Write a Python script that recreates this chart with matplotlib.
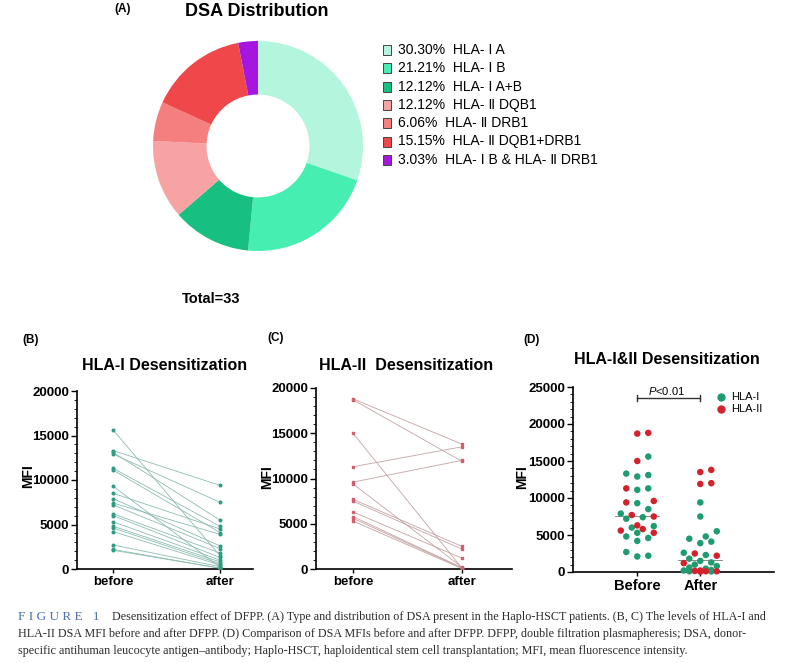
import numpy as np
import matplotlib
matplotlib.use("Agg")
import matplotlib.pyplot as plt
from matplotlib.patches import Rectangle
from matplotlib.lines import Line2D

plt.rcParams["font.family"] = ["Liberation Sans", "DejaVu Sans", "Noto Sans CJK SC"]
plt.rcParams["mathtext.fontset"] = "custom"
plt.rcParams["mathtext.it"] = "Liberation Sans:italic"
plt.rcParams["mathtext.rm"] = "Liberation Sans"

# =========================
# data
# =========================
# (A) DSA types, counts out of 33 patients
dsa_types = ["HLA- Ⅰ A", "HLA- Ⅰ B", "HLA- Ⅰ A+B", "HLA- Ⅱ DQB1",
             "HLA- Ⅱ DRB1", "HLA- Ⅱ DQB1+DRB1", "HLA- Ⅰ B & HLA- Ⅱ DRB1"]
dsa_counts = [10, 7, 4, 4, 2, 5, 1]
dsa_colors = ["#b3f5dd", "#46eeb1", "#17bf80", "#f8a3a3",
              "#f57e7e", "#f0474a", "#a716df"]

# (B) HLA-I MFI before / after DFPP (paired)
hla1_before = [15600, 13300, 13100, 12900, 11300, 11100, 9300, 8500, 7900, 7400,
               7200, 6200, 6000, 5300, 4800, 4600, 4200, 2700, 2200, 2100]
hla1_after = [1500, 9400, 5500, 7500, 4800, 4100, 200, 4500, 2600, 3900,
              2300, 1800, 1300, 1000, 800, 600, 450, 260, 80, 100]

# (C) HLA-II MFI before / after DFPP (paired)
hla2_before = [18800, 18700, 15000, 11300, 9600, 9400, 7700, 7500, 6300, 5800, 5600, 5300]
hla2_after = [13800, 11900, 100, 13500, 12000, 200, 2500, 2200, 1200, 150, 100, 50]

groups = ["before", "after"]
groups_d = ["Before", "After"]

caption = [
    "Desensitization effect of DFPP. (A) Type and distribution of DSA present in the Haplo-HSCT patients. (B, C) The levels of HLA-I and",
    "HLA-II DSA MFI before and after DFPP. (D) Comparison of DSA MFIs before and after DFPP. DFPP, double filtration plasmapheresis; DSA, donor-",
    "specific antihuman leucocyte antigen\u2013antibody; Haplo-HSCT, haploidentical stem cell transplantation; MFI, mean fluorescence intensity.",
]

W, H = 786, 663
fig = plt.figure(figsize=(W / 100, H / 100), dpi=100)


def fx(x):
    return x / W


def fy(y):
    return 1 - y / H


def style_axes(ax, ymax, step, labelsize=9.5):
    for s in ["top", "right"]:
        ax.spines[s].set_visible(False)
    for s in ["left", "bottom"]:
        ax.spines[s].set_linewidth(1.2)
    ax.set_ylim(0, ymax)
    ax.set_yticks(np.arange(0, ymax + 1, step))
    ax.set_yticks(np.arange(0, ymax + 1, 1000), minor=True)
    ax.tick_params(axis="y", which="major", length=4, width=1, pad=1.5, labelsize=labelsize)
    ax.tick_params(axis="y", which="minor", length=2, width=0.6)
    ax.tick_params(axis="x", length=3, width=1, pad=2)
    for t in ax.get_yticklabels():
        t.set_fontweight("bold")


# =========================
# (A) donut
# =========================
fig.text(fx(123), fy(9), "(A)", fontsize=8.5, fontweight="bold", ha="center", va="center")
fig.text(fx(257), fy(11), "DSA Distribution", fontsize=13, fontweight="bold", ha="center", va="center")

axA = fig.add_axes([fx(153), fy(251), 210 / W, 210 / H])
axA.pie(dsa_counts, colors=dsa_colors, startangle=90, counterclock=False, radius=1,
        wedgeprops=dict(width=0.51, edgecolor="none"))
axA.set_xlim(-1, 1)
axA.set_ylim(-1, 1)
axA.axis("off")

total = sum(dsa_counts)
fig.text(fx(211), fy(299), f"Total={total}", fontsize=10.5, fontweight="bold", ha="center", va="center")

for i, (name, n, col) in enumerate(zip(dsa_types, dsa_counts, dsa_colors)):
    y = 50 + i * 18.3
    fig.add_artist(Rectangle((fx(383), fy(y + 5)), 8 / W, 10 / H, transform=fig.transFigure,
                             facecolor=col, edgecolor="#444444", lw=0.7))
    fig.text(fx(398), fy(y), f"{100 * n / total:.2f}%  {name}", fontsize=10, ha="left", va="center")

# =========================
# (B) HLA-I
# =========================
fig.text(fx(31), fy(340), "(B)", fontsize=8.5, fontweight="bold", ha="center", va="center")
fig.text(fx(165), fy(365), "HLA-I Desensitization", fontsize=11.5, fontweight="bold", ha="center", va="center")
axB = fig.add_axes([fx(77), fy(569), 176 / W, 178 / H])
for b, a in zip(hla1_before, hla1_after):
    axB.plot([0, 1], [b, a], color="#8dbcb1", lw=0.6, marker="o", ms=1.9,
             mfc="#2f9c84", mec="#2f9c84", zorder=3)
axB.set_xlim(-0.34, 1.31)
style_axes(axB, 20000, 5000)
axB.set_xticks([0, 1])
axB.set_xticklabels(groups, fontsize=9.5, fontweight="bold")
fig.text(fx(28), fy(476), "MFI", fontsize=10, fontweight="bold", rotation=90, ha="center", va="center")

# =========================
# (C) HLA-II
# =========================
fig.text(fx(276), fy(338), "(C)", fontsize=8.5, fontweight="bold", ha="center", va="center")
fig.text(fx(406), fy(365), "HLA-II  Desensitization", fontsize=11.5, fontweight="bold", ha="center", va="center")
axC = fig.add_axes([fx(316), fy(569), 196 / W, 181 / H])
for b, a in zip(hla2_before, hla2_after):
    axC.plot([0, 1], [b, a], color="#c4a3a3", lw=0.6, marker="s", ms=1.9,
             mfc="#d45c6c", mec="#d45c6c", zorder=3)
axC.set_xlim(-0.34, 1.46)
style_axes(axC, 20000, 5000)
axC.set_xticks([0, 1])
axC.set_xticklabels(groups, fontsize=9.5, fontweight="bold")
fig.text(fx(267), fy(477), "MFI", fontsize=10, fontweight="bold", rotation=90, ha="center", va="center")

# =========================
# (D) combined scatter
# =========================
fig.text(fx(532), fy(340), "(D)", fontsize=8.5, fontweight="bold", ha="center", va="center")
fig.text(fx(667), fy(360), "HLA-I&II Desensitization", fontsize=11.5, fontweight="bold", ha="center", va="center")
axD = fig.add_axes([fx(573), fy(572), 201 / W, 185 / H])
axD.set_xlim(-1.02, 2.17)
style_axes(axD, 25000, 5000)
axD.set_xticks([0, 1])
axD.set_xticklabels(groups_d, fontsize=10.5, fontweight="bold")
fig.text(fx(522), fy(477), "MFI", fontsize=10, fontweight="bold", rotation=90, ha="center", va="center")

px_per_y = 185 / 25000
px_per_x = 201 / 3.19
green, red = "#1f9c6f", "#d2222b"


def swarm(vals, d=9.5, step=5.5, lim=20):
    vals = np.asarray(vals, dtype=float)
    offs = np.zeros(len(vals))
    placed = []
    cands = [0.0]
    k = 1
    while k * step <= lim:
        cands += [k * step, -k * step]
        k += 1
    for i in np.argsort(vals):
        y = vals[i] * px_per_y
        best, best_d = 0.0, -1
        for c in cands:
            md = min([np.hypot(c - p[0], y - p[1]) for p in placed], default=1e9)
            if md >= d:
                best = c
                break
            if md > best_d:
                best, best_d = c, md
        offs[i] = best
        placed.append((best, y))
    return offs / px_per_x


for xpos, v1, v2 in [(0, hla1_before, hla2_before), (1, hla1_after, hla2_after)]:
    vals = list(v1) + list(v2)
    cols = [green] * len(v1) + [red] * len(v2)
    offs = swarm(vals)
    axD.scatter(xpos + offs, vals, s=22, c=cols, edgecolors="none", zorder=3, clip_on=False)
    med = np.median(vals)
    axD.plot([xpos - 0.35, xpos + 0.35], [med, med], color="#777777", lw=0.6, zorder=2)

yb = 23500
axD.plot([0, 1], [yb, yb], color="#333333", lw=1)
axD.plot([0, 0], [yb - 450, yb + 450], color="#333333", lw=1)
axD.plot([1, 1], [yb - 450, yb + 450], color="#333333", lw=1)
fig.text(fx(667), fy(391), r"$\mathit{P}$<0.01", fontsize=8, ha="center", va="center")

for y, col, lab in [(397, green, "HLA-I"), (409, red, "HLA-II")]:
    fig.add_artist(Line2D([fx(721)], [fy(y)], marker="o", ms=6, color=col, mec="none",
                          transform=fig.transFigure))
    fig.text(fx(731), fy(y), lab, fontsize=8, ha="left", va="center")

# =========================
# caption
# =========================
fig.text(fx(18), fy(617), "F I G U R E   1", fontsize=9.5, family="Liberation Serif",
         color="#4a72a8", ha="left", va="center")
for i, line in enumerate(caption):
    fig.text(fx(112 if i == 0 else 18), fy(617 + 17 * i), line, fontsize=8.7,
             family="Liberation Serif", color="#2b2b2b", ha="left", va="center")

fig.savefig("out.png", dpi=100)
plt.close(fig)
